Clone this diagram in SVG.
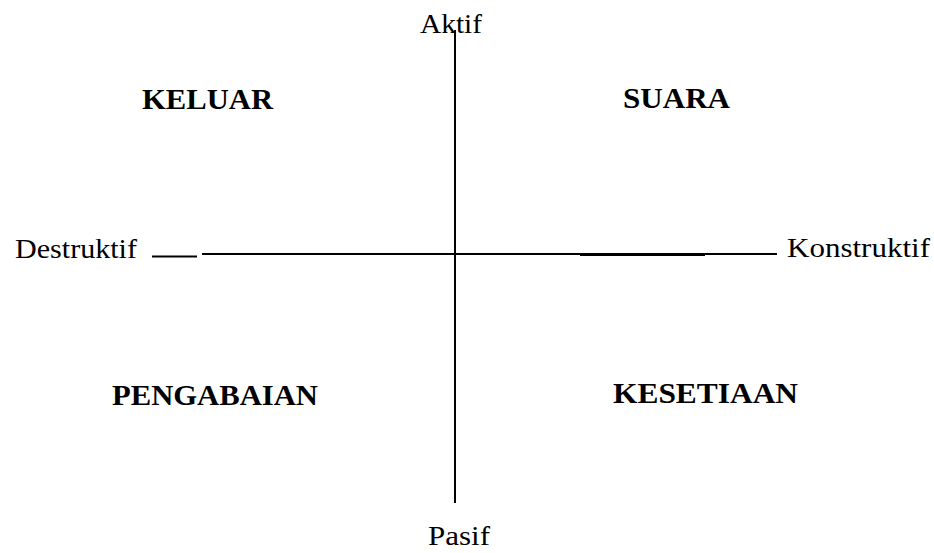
<svg xmlns="http://www.w3.org/2000/svg" width="934" height="553" viewBox="0 0 934 553">
<style>
.ax{font-family:"Liberation Serif","Times New Roman",serif;font-size:27px;fill:#000}
.q{font-family:"Liberation Serif","Times New Roman",serif;font-size:30px;font-weight:bold;fill:#000}
.ln{stroke:#000;stroke-width:2;fill:none}
</style>
<rect width="934" height="553" fill="#fff"/>
<g id="connectors">
<line class="ln" x1="455" y1="30" x2="455" y2="503"/>
<line class="ln" x1="202" y1="254" x2="777" y2="254"/>
<line class="ln" x1="152" y1="256.5" x2="197" y2="256.5"/>
<line class="ln" x1="580" y1="255" x2="705" y2="255" stroke-width="1.5"/>
</g>
<g id="aktif"><text class="ax" x="420" y="33" textLength="62" lengthAdjust="spacingAndGlyphs">Aktif</text></g>
<g id="pasif"><text class="ax" x="428" y="545" textLength="62" lengthAdjust="spacingAndGlyphs">Pasif</text></g>
<g id="destruktif"><text class="ax" x="15" y="258" textLength="122" lengthAdjust="spacingAndGlyphs">Destruktif</text></g>
<g id="konstruktif"><text class="ax" x="787" y="257" textLength="143" lengthAdjust="spacingAndGlyphs">Konstruktif</text></g>
<g id="keluar"><text class="q" x="142" y="109" textLength="131" lengthAdjust="spacingAndGlyphs">KELUAR</text></g>
<g id="suara"><text class="q" x="623" y="108" textLength="107" lengthAdjust="spacingAndGlyphs">SUARA</text></g>
<g id="pengabaian"><text class="q" x="112" y="405" textLength="206" lengthAdjust="spacingAndGlyphs">PENGABAIAN</text></g>
<g id="kesetiaan"><text class="q" x="613" y="403" textLength="185" lengthAdjust="spacingAndGlyphs">KESETIAAN</text></g>
</svg>
